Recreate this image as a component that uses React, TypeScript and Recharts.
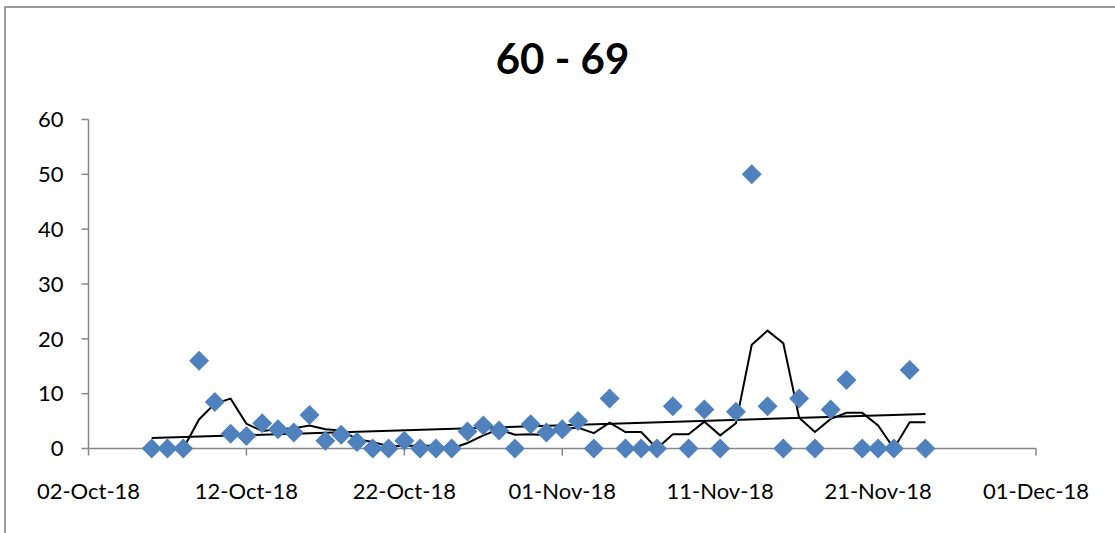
import React from "react"
import { ComposedChart, XAxis, YAxis, Scatter, Line } from "recharts"

// days counted from 02-Oct-18
const days = [
    4, 5, 6, 7, 8, 9, 10, 11, 12, 13, 14, 15, 16, 17, 18, 19, 20, 21, 22, 23, 24, 25, 26, 27, 28,
    29, 30, 31, 32, 33, 34, 35, 36, 37, 38, 39, 40, 41, 42, 43, 44, 45, 46, 47, 48, 49, 50, 51, 52, 53,
]

const values = [
    0, 0, 0, 16, 8.5, 2.7, 2.3, 4.6, 3.5, 2.9, 6.1, 1.4, 2.5, 1.2, 0, 0, 1.4, 0, 0, 0, 3.1, 4.2, 3.3, 0, 4.4,
    2.9, 3.5, 5.0, 0, 9.1, 0, 0, 0, 7.7, 0, 7.1, 0, 6.7, 50, 7.7, 0, 9.1, 0, 7.1, 12.5, 0, 0, 0, 14.3, 0,
]

// 3 per. moving average
const movingAvg = [
    null, null, 0, 5.3, 8.2, 9.1, 4.5, 3.2, 3.5, 3.7, 4.2, 3.5, 3.3, 1.7, 1.2, 0.4, 0.5, 0.5, 0.5, 0, 1.0, 2.4, 3.5, 2.5, 2.6,
    2.4, 3.6, 3.8, 2.8, 4.7, 3.0, 3.0, 0, 2.6, 2.6, 4.9, 2.4, 4.6, 18.9, 21.5, 19.2, 5.6, 3.0, 5.4, 6.5, 6.5, 4.2, 0, 4.8, 4.8,
]

// linear trend, start and end
const trendStart = 1.9
const trendEnd = 6.3

const xTicks = [0, 10, 20, 30, 40, 50, 60]
const xTickLabels = ["02-Oct-18", "12-Oct-18", "22-Oct-18", "01-Nov-18", "11-Nov-18", "21-Nov-18", "01-Dec-18"]
const yTicks = [0, 10, 20, 30, 40, 50, 60]

const rows = days.map((day, i) => ({
    day,
    value: values[i],
    ma: movingAvg[i],
    trend: i === 0 ? trendStart : i === days.length - 1 ? trendEnd : null,
}))

const font = "Lato, 'Open Sans', sans-serif"

const Diamond = (props: any) => {
    const { cx, cy } = props
    if (cx == null || cy == null) return null
    const r = 10
    return (
        <polygon
            points={`${cx},${cy - r} ${cx + r},${cy} ${cx},${cy + r} ${cx - r},${cy}`}
            fill="#4f81bd"
        />
    )
}

export default function App() {
    return (
        <div style={{ position: "fixed", left: 0, top: 0, width: 1115, height: 533, background: "#fff", overflow: "hidden" }}>
            <div
                style={{
                    position: "absolute",
                    left: 4,
                    top: 6,
                    width: 1200,
                    height: 600,
                    borderLeft: "2px solid #9a9a9a",
                    borderTop: "2px solid #9a9a9a",
                }}
            />
            <div
                style={{
                    position: "absolute",
                    left: 0,
                    width: 1125,
                    top: 32,
                    textAlign: "center",
                    fontFamily: font,
                    fontWeight: 700,
                    fontSize: 42,
                    lineHeight: "52px",
                    color: "#000",
                }}
            >
                60 - 69
            </div>
            <div style={{ position: "absolute", left: 0, top: 0 }}>
                <ComposedChart
                    width={1115}
                    height={533}
                    data={rows}
                    margin={{ top: 119.5, right: 79, bottom: 34.5, left: 28.5 }}
                >
                    <XAxis
                        type="number"
                        dataKey="day"
                        domain={[0, 60]}
                        ticks={xTicks}
                        tickFormatter={(v: number) => xTickLabels[xTicks.indexOf(v)]}
                        interval={0}
                        height={50}
                        stroke="#868686"
                        strokeWidth={1.5}
                        tickSize={7}
                        tickMargin={28}
                        tick={{ fill: "#000", fontSize: 22, fontFamily: font }}
                    />
                    <YAxis
                        type="number"
                        domain={[0, 60]}
                        ticks={yTicks}
                        interval={0}
                        width={60}
                        stroke="#868686"
                        strokeWidth={1.5}
                        tickSize={7}
                        tickMargin={18}
                        tick={{ fill: "#000", fontSize: 22, fontFamily: font }}
                    />
                    <Scatter dataKey="value" shape={Diamond} isAnimationActive={false} />
                    <Line
                        dataKey="ma"
                        stroke="#000"
                        strokeWidth={2}
                        dot={false}
                        activeDot={false}
                        type="linear"
                        isAnimationActive={false}
                    />
                    <Line
                        dataKey="trend"
                        stroke="#000"
                        strokeWidth={2}
                        dot={false}
                        activeDot={false}
                        connectNulls
                        type="linear"
                        isAnimationActive={false}
                    />
                </ComposedChart>
            </div>
        </div>
    )
}
